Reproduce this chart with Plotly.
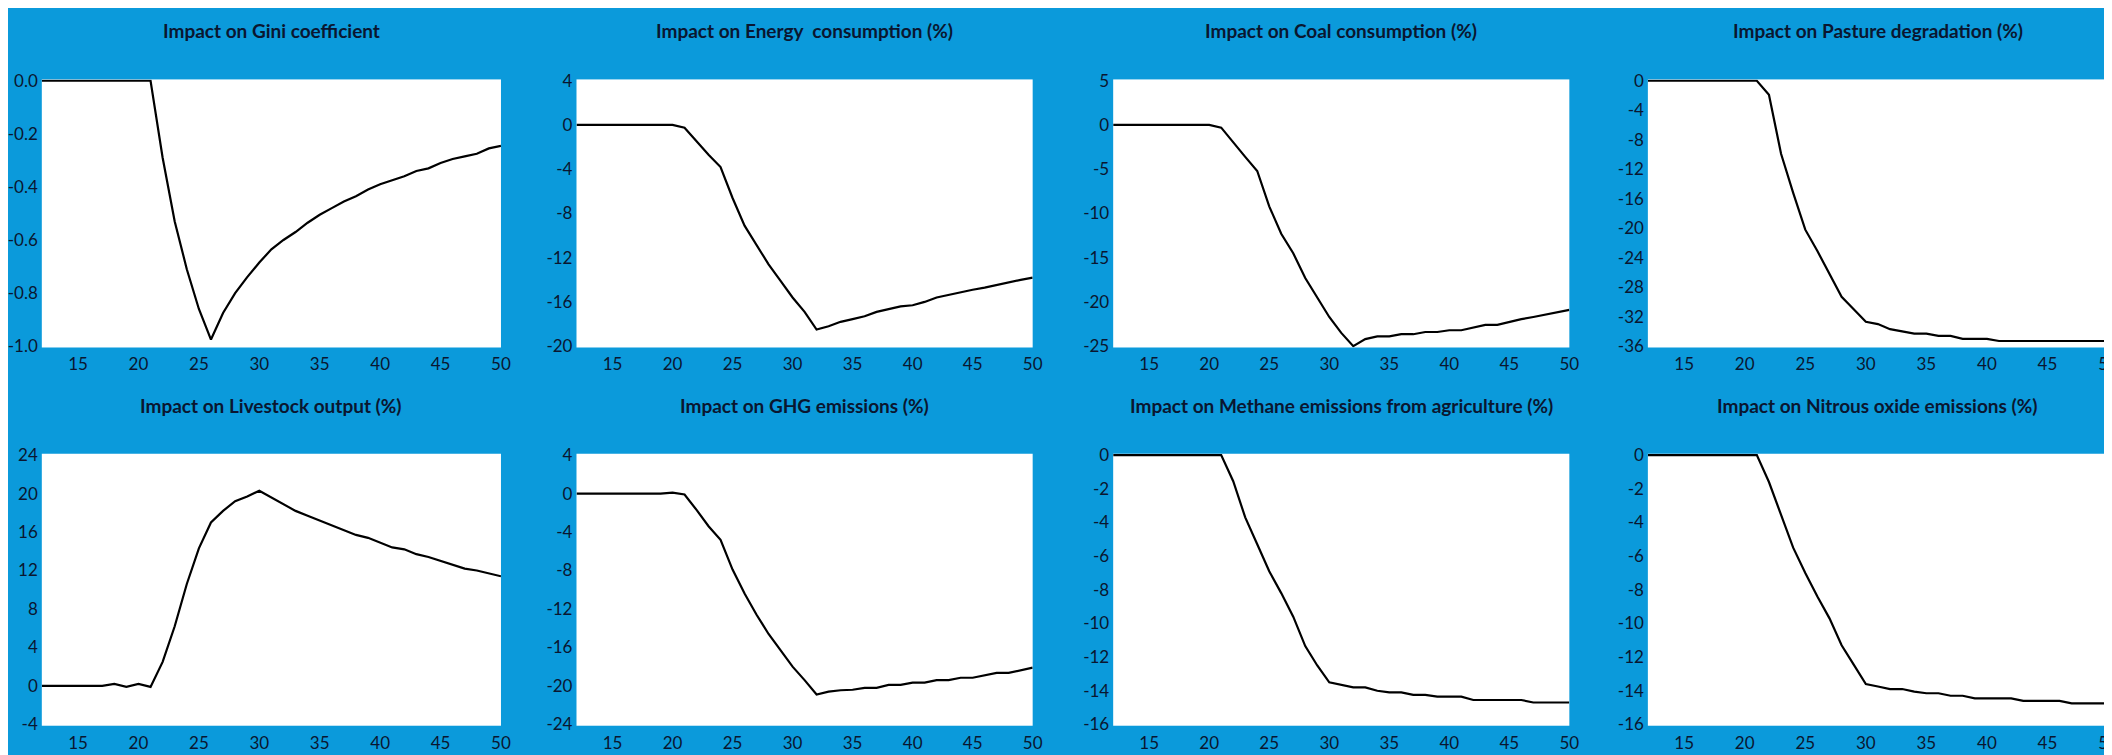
import plotly.graph_objects as go

# ---------------- data ----------------
years = [12, 13, 14, 15, 16, 17, 18, 19, 20, 21, 22, 23, 24, 25, 26, 27, 28, 29, 30,
         31, 32, 33, 34, 35, 36, 37, 38, 39, 40, 41, 42, 43, 44, 45, 46, 47, 48, 49, 50]

gini = [0, 0, 0, 0, 0, 0, 0, 0, 0, 0,
        -0.29, -0.53, -0.71, -0.86, -0.975, -0.875, -0.80, -0.74, -0.685, -0.635,
        -0.60, -0.57, -0.535, -0.505, -0.48, -0.455, -0.435, -0.41, -0.39, -0.375,
        -0.36, -0.34, -0.33, -0.31, -0.295, -0.285, -0.275, -0.255, -0.245]

energy = [0, 0, 0, 0, 0, 0, 0, 0, 0,
          -0.25, -1.5, -2.7, -3.8, -6.6, -9.1, -10.8, -12.6, -14.1, -15.6, -16.9,
          -18.5, -18.2, -17.8, -17.55, -17.3, -16.9, -16.65, -16.4, -16.3, -16.0,
          -15.6, -15.35, -15.15, -14.9, -14.7, -14.45, -14.2, -14.0, -13.8]

coal = [0, 0, 0, 0, 0, 0, 0, 0, 0,
        -0.3, -2.0, -3.6, -5.2, -9.2, -12.3, -14.5, -17.3, -19.5, -21.7, -23.5,
        -25.0, -24.2, -23.9, -23.9, -23.65, -23.65, -23.4, -23.4, -23.2, -23.2,
        -22.9, -22.6, -22.6, -22.25, -21.95, -21.7, -21.45, -21.2, -20.9]

pasture = [0, 0, 0, 0, 0, 0, 0, 0, 0, 0,
           -1.9, -9.9, -15.2, -20.2, -23.1, -26.2, -29.3, -31.0, -32.7, -33.0,
           -33.7, -34.0, -34.3, -34.3, -34.6, -34.6, -35.0, -35.0, -35.0, -35.3,
           -35.3, -35.3, -35.3, -35.3, -35.3, -35.3, -35.3, -35.3, -35.3]

livestock = [0, 0, 0, 0, 0, 0,
             0.2, -0.1, 0.2, -0.1, 2.5, 6.2, 10.6, 14.3, 17.0, 18.2, 19.2, 19.7, 20.3,
             19.6, 18.9, 18.2, 17.7, 17.2, 16.7, 16.2, 15.7, 15.4, 14.9, 14.4,
             14.2, 13.7, 13.4, 13.0, 12.6, 12.2, 12.0, 11.7, 11.4]

ghg = [0, 0, 0, 0, 0, 0, 0, 0,
       0.1, -0.1, -1.7, -3.4, -4.8, -7.9, -10.4, -12.6, -14.6, -16.3, -18.0,
       -19.4, -20.9, -20.6, -20.45, -20.4, -20.2, -20.2, -19.9, -19.9, -19.65,
       -19.65, -19.4, -19.4, -19.15, -19.15, -18.9, -18.65, -18.65, -18.4, -18.1]

methane = [0, 0, 0, 0, 0, 0, 0, 0, 0, 0,
           -1.55, -3.7, -5.3, -6.9, -8.2, -9.6, -11.35, -12.5, -13.5, -13.65,
           -13.8, -13.8, -14.0, -14.1, -14.1, -14.25, -14.25, -14.35, -14.35, -14.35,
           -14.55, -14.55, -14.55, -14.55, -14.55, -14.7, -14.7, -14.7, -14.7]

nitrous = [0, 0, 0, 0, 0, 0, 0, 0, 0, 0,
           -1.6, -3.6, -5.5, -7.0, -8.4, -9.7, -11.3, -12.45, -13.6, -13.75,
           -13.9, -13.9, -14.05, -14.15, -14.15, -14.3, -14.3, -14.45, -14.45, -14.45,
           -14.45, -14.6, -14.6, -14.6, -14.6, -14.75, -14.75, -14.75, -14.75]

titles = [
    "Impact on Gini coefficient",
    "Impact on Energy  consumption (%)",
    "Impact on Coal consumption (%)",
    "Impact on Pasture degradation (%)",
    "Impact on Livestock output (%)",
    "Impact on GHG emissions (%)",
    "Impact on Methane emissions from agriculture (%)",
    "Impact on Nitrous oxide emissions (%)",
]

x_ticks = [15, 20, 25, 30, 35, 40, 45, 50]
x_ticktext = ["15", "20", "25", "30", "35", "40", "45", "50"]

y_ticks_gini = [0.0, -0.2, -0.4, -0.6, -0.8, -1.0]
y_text_gini = ["0.0", "-0.2", "-0.4", "-0.6", "-0.8", "-1.0"]
y_ticks_energy = [4, 0, -4, -8, -12, -16, -20]
y_text_energy = ["4", "0", "-4", "-8", "-12", "-16", "-20"]
y_ticks_coal = [5, 0, -5, -10, -15, -20, -25]
y_text_coal = ["5", "0", "-5", "-10", "-15", "-20", "-25"]
y_ticks_pasture = [0, -4, -8, -12, -16, -20, -24, -28, -32, -36]
y_text_pasture = ["0", "-4", "-8", "-12", "-16", "-20", "-24", "-28", "-32", "-36"]
y_ticks_livestock = [24, 20, 16, 12, 8, 4, 0, -4]
y_text_livestock = ["24", "20", "16", "12", "8", "4", "0", "-4"]
y_ticks_ghg = [4, 0, -4, -8, -12, -16, -20, -24]
y_text_ghg = ["4", "0", "-4", "-8", "-12", "-16", "-20", "-24"]
y_ticks_ch4 = [0, -2, -4, -6, -8, -10, -12, -14, -16]
y_text_ch4 = ["0", "-2", "-4", "-6", "-8", "-10", "-12", "-14", "-16"]

series = [gini, energy, coal, pasture, livestock, ghg, methane, nitrous]
yticks = [y_ticks_gini, y_ticks_energy, y_ticks_coal, y_ticks_pasture,
          y_ticks_livestock, y_ticks_ghg, y_ticks_ch4, y_ticks_ch4]
ytexts = [y_text_gini, y_text_energy, y_text_coal, y_text_pasture,
          y_text_livestock, y_text_ghg, y_text_ch4, y_text_ch4]

# ---------------- layout geometry (pixels) ----------------
W, H = 2112, 755
cols = [(31, 493), (569, 1028), (1109, 1568), (1647, 2110)]
rows = [(63, 338), (447, 726)]
title_y = [13, 398]

BG = "#0B9ADB"
TXT = "#0a1630"
FONT = "Lato"

fig = go.Figure()
layout = dict(
    width=W, height=H, autosize=False,
    margin=dict(l=0, r=0, t=0, b=0),
    paper_bgcolor=BG, plot_bgcolor="white",
    showlegend=False,
    font=dict(family=FONT, size=16, color=TXT),
    annotations=[],
)

for i, ys in enumerate(series):
    r, c = divmod(i, 4)
    n = i + 1
    xa = "xaxis" if n == 1 else f"xaxis{n}"
    ya = "yaxis" if n == 1 else f"yaxis{n}"
    xref = "x" if n == 1 else f"x{n}"
    yref = "y" if n == 1 else f"y{n}"
    x0, x1 = cols[c]
    t0, b0 = rows[r]
    lo, hi = min(yticks[i]), max(yticks[i])
    pad = (hi - lo) * 0.005
    fig.add_trace(go.Scatter(
        x=years, y=ys, mode="lines", xaxis=xref, yaxis=yref,
        line=dict(color="black", width=2.2), hoverinfo="skip",
    ))
    layout[xa] = dict(
        domain=[x0 / W, x1 / W], anchor=yref, range=[12, 50],
        tickmode="array", tickvals=x_ticks, ticktext=x_ticktext,
        showgrid=False, zeroline=False, showline=False, ticks="",
        ticklabelstandoff=5, tickfont=dict(family=FONT, size=17, color=TXT),
        fixedrange=True,
    )
    layout[ya] = dict(
        domain=[(H - b0) / H, (H - t0) / H], anchor=xref, range=[lo - pad, hi + pad],
        tickmode="array", tickvals=yticks[i], ticktext=ytexts[i],
        showgrid=False, zeroline=False, showline=False, ticks="",
        ticklabelstandoff=3, tickfont=dict(family=FONT, size=17, color=TXT),
        fixedrange=True,
    )
    layout["annotations"].append(dict(
        text=f"<b>{titles[i]}</b>", xref="paper", yref="paper",
        x=(x0 + x1) / 2 / W, y=(H - title_y[r]) / H,
        xanchor="center", yanchor="middle", showarrow=False,
        font=dict(family=FONT, size=19, color=TXT),
    ))

fig.update_layout(**layout)
fig.write_html("out.html")
